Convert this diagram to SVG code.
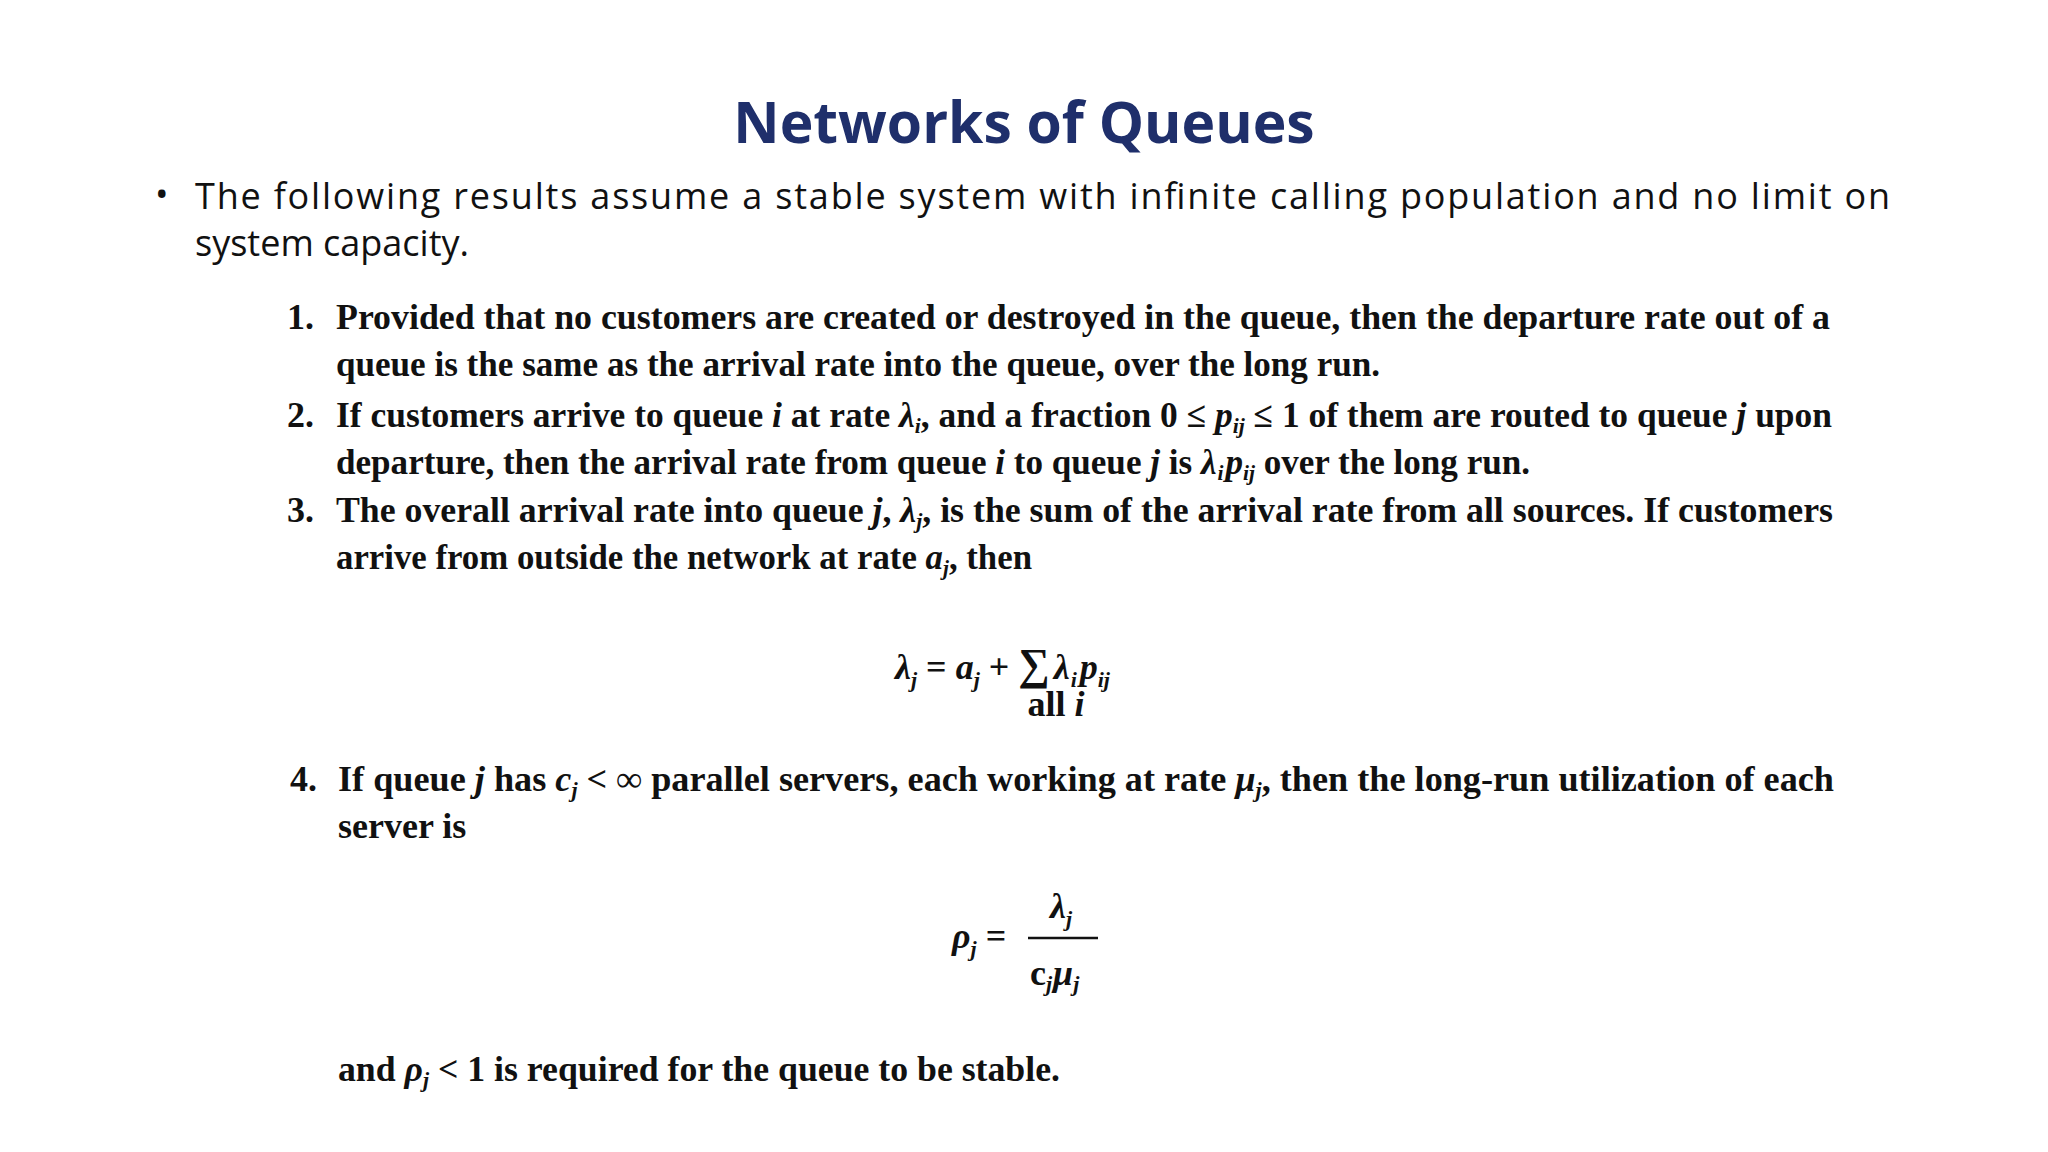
<svg xmlns="http://www.w3.org/2000/svg" width="2048" height="1152" viewBox="0 0 2048 1152">
<style>
.t{font-family:"Liberation Serif",serif;font-weight:bold;font-size:36px;fill:#111}
.b{font-family:"Open Sans","Liberation Sans",sans-serif;font-size:36px;fill:#111}
.i{font-style:italic}
.s{font-size:22px}
</style>
<rect width="2048" height="1152" fill="#fff"/>
<text x="1024" y="143" text-anchor="middle" font-family="Open Sans, Liberation Sans, sans-serif" font-weight="bold" font-size="57" fill="#1F2F6B">Networks of Queues</text>
<text class="b" x="155" y="207">•</text>
<text class="b" x="195" y="209" textLength="1695" lengthAdjust="spacing">The following results assume a stable system with infinite calling population and no limit on</text>
<text class="b" x="195" y="256">system capacity.</text>
<text class="t" x="287" y="329">1.</text>
<text class="t" x="336" y="329" textLength="1494" lengthAdjust="spacingAndGlyphs">Provided that no customers are created or destroyed in the queue, then the departure rate out of a</text>
<text class="t" x="336" y="376" textLength="1044" lengthAdjust="spacingAndGlyphs">queue is the same as the arrival rate into the queue, over the long run.</text>
<text class="t" x="287" y="427">2.</text>
<text class="t" x="336" y="427" textLength="1496" lengthAdjust="spacingAndGlyphs">If customers arrive to queue <tspan class="i">i</tspan> at rate <tspan class="i">λ</tspan><tspan class="s i" dy="6">i</tspan><tspan dy="-6">, and a fraction 0 ≤ </tspan><tspan class="i">p</tspan><tspan class="s i" dy="6">ij</tspan><tspan dy="-6"> ≤ 1 of them are routed to queue </tspan><tspan class="i">j</tspan> upon</text>
<text class="t" x="336" y="474" textLength="1194" lengthAdjust="spacingAndGlyphs">departure, then the arrival rate from queue <tspan class="i">i</tspan> to queue <tspan class="i">j</tspan> is <tspan class="i">λ</tspan><tspan class="s i" dy="6" dx="1">i</tspan><tspan class="i" dy="-6" dx="2">p</tspan><tspan class="s i" dy="6">ij</tspan><tspan dy="-6"> over the long run.</tspan></text>
<text class="t" x="287" y="522">3.</text>
<text class="t" x="336" y="522" textLength="1497" lengthAdjust="spacingAndGlyphs">The overall arrival rate into queue <tspan class="i">j</tspan>, <tspan class="i">λ</tspan><tspan class="s i" dy="6">j</tspan><tspan dy="-6">, is the sum of the arrival rate from all sources. If customers</tspan></text>
<text class="t" x="336" y="569" textLength="696" lengthAdjust="spacingAndGlyphs">arrive from outside the network at rate <tspan class="i">a</tspan><tspan class="s i" dy="6">j</tspan><tspan dy="-6">, then</tspan></text>
<text class="t" x="895" y="679" font-size="40"><tspan class="i">λ</tspan><tspan class="s i" dy="8">j</tspan><tspan dy="-8"> = </tspan><tspan class="i">a</tspan><tspan class="s i" dy="8">j</tspan><tspan dy="-8"> + </tspan><tspan font-size="44">∑</tspan><tspan class="i" dx="4">λ</tspan><tspan class="s i" dy="8" dx="1">i</tspan><tspan class="i" dy="-8" dx="3">p</tspan><tspan class="s i" dy="8">ij</tspan></text>
<text class="t" x="1056" y="716" font-size="17" text-anchor="middle">all <tspan class="i">i</tspan></text>
<text class="t" x="290" y="791">4.</text>
<text class="t" x="338" y="791" textLength="1496" lengthAdjust="spacingAndGlyphs">If queue <tspan class="i">j</tspan> has <tspan class="i">c</tspan><tspan class="s i" dy="6">j</tspan><tspan dy="-6"> &lt; ∞ parallel servers, each working at rate </tspan><tspan class="i">μ</tspan><tspan class="s i" dy="6">j</tspan><tspan dy="-6">, then the long-run utilization of each</tspan></text>
<text class="t" x="338" y="838">server is</text>
<text class="t" x="952" y="948" font-size="40"><tspan class="i">ρ</tspan><tspan class="s i" dy="8">j</tspan><tspan dy="-8"> =</tspan></text>
<line x1="1028" y1="938" x2="1098" y2="938" stroke="#111" stroke-width="2.5"/>
<text class="t" x="1050" y="918" font-size="40"><tspan class="i">λ</tspan><tspan class="s i" dy="8">j</tspan></text>
<text class="t" x="1030" y="985" font-size="36"><tspan>c</tspan><tspan class="s i" dy="6">j</tspan><tspan class="i" dy="-6" dx="1">μ</tspan><tspan class="s i" dy="6">j</tspan></text>
<text class="t" x="338" y="1081" textLength="722" lengthAdjust="spacingAndGlyphs">and <tspan class="i">ρ</tspan><tspan class="s i" dy="6">j</tspan><tspan dy="-6"> &lt; 1 is required for the queue to be stable.</tspan></text>
</svg>
